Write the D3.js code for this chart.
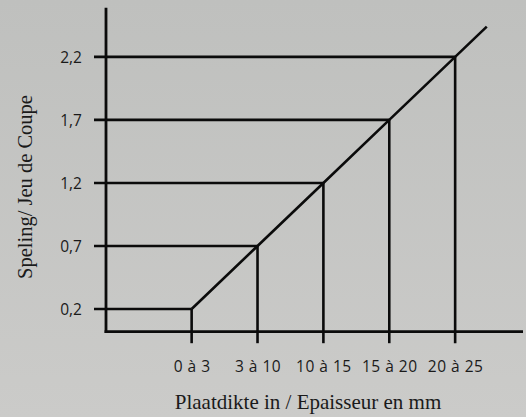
<!DOCTYPE html>
<html>
<head>
<meta charset="utf-8">
<script src="https://cdn.jsdelivr.net/npm/d3@7"></script>
<style>
  html, body { margin: 0; padding: 0; }
  body { width: 526px; height: 417px; overflow: hidden; }
  svg { display: block; }
</style>
</head>
<body>
<svg id="chart" width="526" height="417"></svg>
<script>
// ---- data ----
const categories = ["0 à 3", "3 à 10", "10 à 15", "15 à 20", "20 à 25"];
const speling = [0.2, 0.7, 1.2, 1.7, 2.2];
const yTicks = [0.2, 0.7, 1.2, 1.7, 2.2];
const yTickLabels = ["0,2", "0,7", "1,2", "1,7", "2,2"];
const lineExtension = { index: 4.48, value: 2.44 };
const xTitle = "Plaatdikte in / Epaisseur en mm";
const yTitle = "Speling/ Jeu de Coupe";

// ---- layout ----
const svg = d3.select("#chart");
const W = 526, H = 417;

const defs = svg.append("defs");
const grad = defs.append("linearGradient").attr("id", "bg").attr("x1", 0).attr("y1", 0).attr("x2", 0).attr("y2", 1);
grad.append("stop").attr("offset", "0%").attr("stop-color", "#bfc0be");
grad.append("stop").attr("offset", "100%").attr("stop-color", "#cbcbc9");
svg.append("rect").attr("width", W).attr("height", H).attr("fill", "url(#bg)");

const x = d3.scaleLinear().domain([-1.3, 5.03]).range([106, 523]);
const y = d3.scaleLinear().domain([0.02, 2.59]).range([331.7, 7.7]);

const ink = "#0b0b0b";
const sw = 2.6;
const tickLeft = 12;
const tickDown = 11.5;

const g = svg.append("g");

// guide lines: horizontal from left tick to point, vertical from point to below axis
categories.forEach((c, i) => {
  g.append("line")
    .attr("x1", x(-1.3) - tickLeft).attr("x2", x(i))
    .attr("y1", y(speling[i])).attr("y2", y(speling[i]))
    .attr("stroke", ink).attr("stroke-width", sw);
  g.append("line")
    .attr("x1", x(i)).attr("x2", x(i))
    .attr("y1", y(speling[i])).attr("y2", y(0.02) + tickDown)
    .attr("stroke", ink).attr("stroke-width", sw);
});

// diagonal line
const pts = speling.map((v, i) => [i, v]).concat([[lineExtension.index, lineExtension.value]]);
g.append("path")
  .attr("d", d3.line().x(d => x(d[0])).y(d => y(d[1]))(pts))
  .attr("fill", "none").attr("stroke", ink).attr("stroke-width", sw)
  .attr("stroke-linejoin", "miter");

// axes lines
g.append("line")
  .attr("x1", x(-1.3)).attr("x2", x(-1.3))
  .attr("y1", y(2.59)).attr("y2", y(0.02) + sw / 2)
  .attr("stroke", ink).attr("stroke-width", 2.8);
g.append("line")
  .attr("x1", x(-1.3) - 1.4).attr("x2", x(5.03))
  .attr("y1", y(0.02)).attr("y2", y(0.02))
  .attr("stroke", ink).attr("stroke-width", 2.8);

const sansFont = "'Open Sans', 'Noto Sans', sans-serif";
const serifFont = "'Liberation Serif', 'DejaVu Serif', serif";

// y axis labels via d3 axis
const yAxis = d3.axisLeft(y).tickValues(yTicks).tickSize(0).tickPadding(0)
  .tickFormat((d, i) => yTickLabels[i]);
const ya = svg.append("g").attr("transform", `translate(82,0)`).call(yAxis)
  .attr("font-size", null).attr("font-family", null);
ya.select(".domain").remove();
ya.selectAll("text")
  .style("font-family", sansFont)
  .style("font-size", "15.5px").attr("fill", "#1a1a1a").attr("dy", "0.36em");

// x axis labels via d3 axis
const xAxis = d3.axisBottom(x).tickValues(d3.range(categories.length)).tickSize(0).tickPadding(0)
  .tickFormat((d) => categories[d]);
const xa = svg.append("g").attr("transform", `translate(0,372)`).call(xAxis)
  .attr("font-size", null).attr("font-family", null);
xa.select(".domain").remove();
xa.selectAll("text")
  .style("font-family", sansFont)
  .style("font-size", "15.5px").style("letter-spacing", "0.5px")
  .attr("fill", "#1a1a1a").attr("y", 0).attr("dy", 0);

// titles
svg.append("text")
  .attr("x", 308).attr("y", 409)
  .attr("text-anchor", "middle")
  .style("font-family", serifFont)
  .style("font-size", "21px").attr("fill", "#1a1a1a")
  .text(xTitle);

svg.append("text")
  .attr("transform", "translate(32,187) rotate(-90)")
  .attr("text-anchor", "middle")
  .style("font-family", serifFont)
  .style("font-size", "20.5px").attr("fill", "#1a1a1a")
  .text(yTitle);
</script>
</body>
</html>
